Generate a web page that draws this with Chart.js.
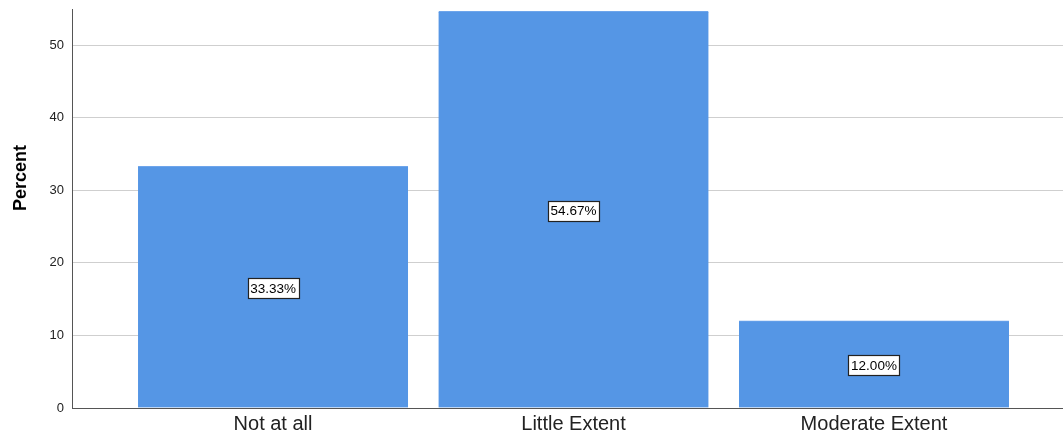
<!DOCTYPE html>
<html><head><meta charset="utf-8">
<script src="https://cdn.jsdelivr.net/npm/chart.js@4/dist/chart.umd.min.js"></script>
<style>html,body{margin:0;padding:0;background:#fff}#wrap{width:1063px;height:437px}</style>
</head><body><div id="wrap"><canvas id="c" width="1063" height="437"></canvas></div>
<script>
const categories = ["Not at all", "Little Extent", "Moderate Extent"];
const percentValues = [33.33, 54.67, 12.00];
const yTickValues = [0, 10, 20, 30, 40, 50];
const yAxisTitle = "Percent";

const labelPlugin = {
  id: 'boxLabels',
  afterDatasetsDraw(chart) {
    const ctx = chart.ctx;
    const meta = chart.getDatasetMeta(0);
    const ys = chart.scales.y;
    ctx.save();
    ctx.font = '13.5px "Liberation Sans", Arial, sans-serif';
    ctx.textAlign = 'center';
    ctx.textBaseline = 'middle';
    meta.data.forEach((bar, i) => {
      const v = percentValues[i];
      const txt = v.toFixed(2) + '%';
      const cy = ys.getPixelForValue(v / 2) + 1;
      const w = Math.round(ctx.measureText(txt).width + 5);
      const h = 20;
      const x0 = Math.round(bar.x - w / 2) + 0.5, y0 = Math.round(cy - h / 2) + 0.5;
      ctx.fillStyle = '#fff';
      ctx.fillRect(x0, y0, w, h);
      ctx.strokeStyle = '#222';
      ctx.lineWidth = 1.2;
      ctx.strokeRect(x0, y0, w, h);
      ctx.fillStyle = '#000';
      ctx.fillText(txt, bar.x, cy + 1);
    });
    ctx.restore();
  }
};

const yTitlePlugin = {
  id: 'yTitle',
  afterDraw(chart) {
    const ctx = chart.ctx;
    ctx.save();
    ctx.translate(21, 178);
    ctx.rotate(-Math.PI / 2);
    ctx.font = 'bold 18px "Liberation Sans", Arial, sans-serif';
    ctx.fillStyle = '#000';
    ctx.textAlign = 'center';
    ctx.textBaseline = 'middle';
    ctx.fillText(yAxisTitle, 0, 0);
    ctx.restore();
  }
};

new Chart(document.getElementById('c'), {
  type: 'bar',
  data: {
    datasets: [{
      data: percentValues.map((v, i) => ({x: i, y: v})),
      backgroundColor: 'rgb(85,150,229)',
      borderColor: 'rgb(110,165,235)',
      borderWidth: {top: 1, left: 0, right: 0, bottom: 0},
      barThickness: 270
    }]
  },
  options: {
    responsive: false,
    animation: false,
    layout: {padding: {top: 9, right: 0, left: 0, bottom: 0}},
    plugins: {legend: {display: false}, tooltip: {enabled: false}},
    scales: {
      x: {
        type: 'linear',
        offset: false,
        bounds: 'data',
        min: -0.669,
        max: 2.629,
        afterDataLimits: s => { s.min = -0.669; s.max = 2.629; },
        afterBuildTicks: s => { s.ticks = categories.map((c, i) => ({value: i})); },
        afterFit: s => { s.height = 29; s.paddingLeft = 0; s.paddingRight = 0; },
        ticks: {
          autoSkip: false,
          maxRotation: 0,
          color: '#222',
          padding: 4,
          font: {family: '"Liberation Sans", Arial, sans-serif', size: 20},
          callback: (v) => categories[v]
        },
        grid: {display: false, drawTicks: false},
        border: {display: true, color: '#555', width: 1}
      },
      y: {
        min: 0,
        max: 55,
        afterBuildTicks: s => { s.ticks = yTickValues.map(v => ({value: v})); },
        afterFit: s => { s.width = 72; s.paddingTop = 0; s.paddingBottom = 0; },
        ticks: {
          color: '#222',
          padding: 8,
          font: {family: '"Liberation Sans", Arial, sans-serif', size: 13}
        },
        grid: {color: '#cfcfcf', lineWidth: 1, drawTicks: false},
        border: {display: true, color: '#555', width: 1},
        title: {display: false}
      }
    }
  },
  plugins: [labelPlugin, yTitlePlugin]
});
</script></body></html>
